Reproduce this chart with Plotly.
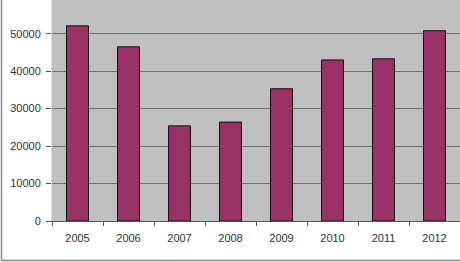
import plotly.graph_objects as go

years = ["2005", "2006", "2007", "2008", "2009", "2010", "2011", "2012"]
values = [52100, 46500, 25400, 26400, 35300, 43000, 43300, 50800]
ytick_vals = [0, 10000, 20000, 30000, 40000, 50000]
ytick_text = ["0", "10000", "20000", "30000", "40000", "50000"]

fig = go.Figure(go.Bar(
    x=years, y=values,
    marker=dict(color="#993366", line=dict(color="#1a0a10", width=1)),
))

L, R, T, B = 52, 0, 0, 41
W, H = 460, 262
pw, ph = W - L - R, H - T - B

def px(x):
    return (x - L) / pw

def py(y):
    return (H - B - y) / ph

fig.update_layout(
    width=W, height=H,
    margin=dict(l=L, r=R, t=T, b=B),
    paper_bgcolor="white",
    plot_bgcolor="#c0c0c0",
    bargap=0.57,
    showlegend=False,
    font=dict(family="Liberation Sans, Arial, sans-serif", size=11, color="#333333"),
    xaxis=dict(
        type="category", tickson="boundaries", ticks="outside", ticklen=4,
        tickcolor="#555555", showline=True, linecolor="#555555", linewidth=1,
        showgrid=False, tickfont=dict(size=11), ticklabelstandoff=7,
    ),
    yaxis=dict(
        range=[0, 59000], tickvals=ytick_vals, ticktext=ytick_text,
        ticks="outside", ticklen=5, tickcolor="#555555",
        showline=True, linecolor="#dddddd", linewidth=1,
        showgrid=True, gridcolor="#6e6e6e", gridwidth=1, zeroline=False,
        tickfont=dict(size=11), ticklabelstandoff=3,
    ),
    shapes=[
        dict(type="line", xref="paper", yref="paper", x0=px(1.5), x1=px(1.5), y0=py(260.5), y1=py(-2),
             line=dict(color="#8a8a8a", width=1.5)),
        dict(type="line", xref="paper", yref="paper", x0=px(1.5), x1=px(461), y0=py(260.5), y1=py(260.5),
             line=dict(color="#8a8a8a", width=1.5)),
    ],
)

fig.write_html("out.html")
